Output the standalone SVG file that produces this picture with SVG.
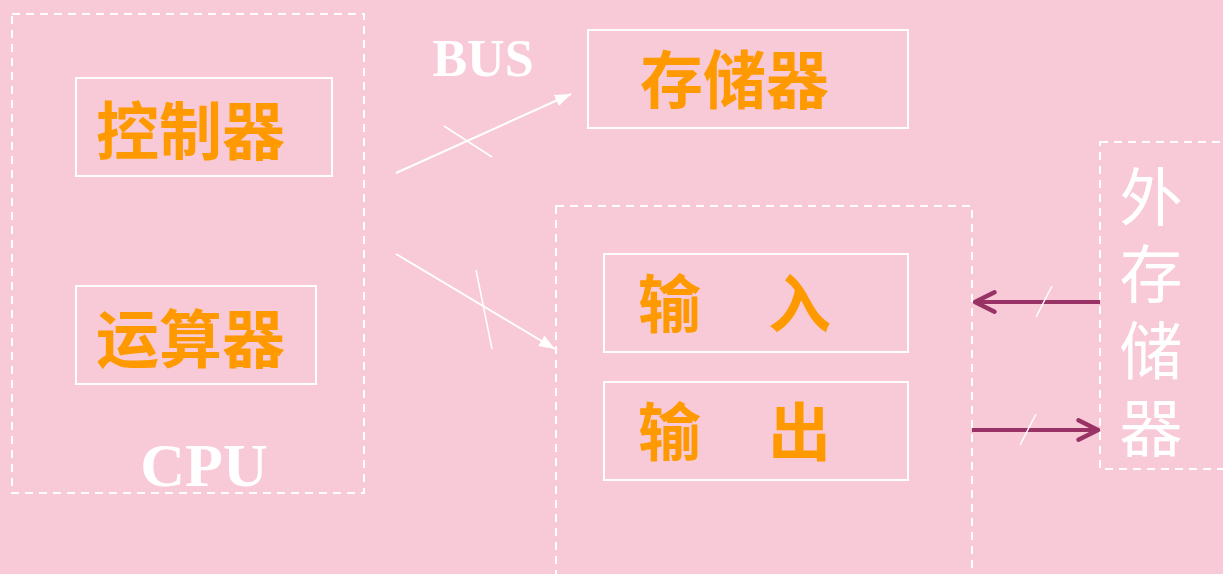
<svg xmlns="http://www.w3.org/2000/svg" width="1223" height="574" viewBox="0 0 1223 574">
<defs>
<style>
.dash{fill:none;stroke:#fff;stroke-width:2;stroke-dasharray:8 6}
.box{fill:none;stroke:#fff;stroke-width:2}
.cn{fill:#FF9900;font-family:"Noto Sans CJK SC","Noto Sans CJK JP",sans-serif;font-weight:bold;font-size:63px}
.lat{fill:#fff;font-family:"Liberation Serif",serif;font-weight:bold}
.ext{fill:#fff;font-family:"Noto Sans CJK SC",sans-serif;font-size:63px}
.bus{stroke:#fff;stroke-width:2;fill:none}
.pur{stroke:#993366;stroke-width:4;fill:none}
.tick{stroke:#fff;stroke-width:1.5}
</style>
<marker id="wa" viewBox="0 0 10 10" refX="10" refY="5" markerWidth="16" markerHeight="12" markerUnits="userSpaceOnUse" orient="auto" preserveAspectRatio="none"><path d="M0,0 L10,5 L0,10 Z" fill="#fff"/></marker>
<marker id="pa" viewBox="0 0 12 12" refX="11" refY="6" markerWidth="26" markerHeight="26" markerUnits="userSpaceOnUse" orient="auto"><polyline points="2,1.5 11,6 2,10.5" fill="none" stroke="#993366" stroke-width="2" stroke-linecap="round" stroke-linejoin="round"/></marker>
</defs>
<rect width="1223" height="574" fill="#F8CAD8"/>
<g id="cpu">
<rect class="dash" x="12" y="14" width="352" height="479"/>
<text class="lat" x="204" y="486" font-size="62" text-anchor="middle">CPU</text>
</g>
<g id="controller">
<rect class="box" x="76" y="78" width="256" height="98"/>
<text class="cn" x="96" y="154">控制器</text>
</g>
<g id="alu">
<rect class="box" x="76" y="286" width="240" height="98"/>
<text class="cn" x="96" y="362">运算器</text>
</g>
<g id="memory">
<rect class="box" x="588" y="30" width="320" height="98"/>
<text class="cn" x="640" y="103">存储器</text>
</g>
<g id="io">
<rect class="dash" x="556" y="206" width="416" height="372"/>
</g>
<g id="input">
<rect class="box" x="604" y="254" width="304" height="98"/>
<text class="cn" x="638" y="327">输</text>
<text class="cn" x="768" y="327">入</text>
</g>
<g id="output">
<rect class="box" x="604" y="382" width="304" height="98"/>
<text class="cn" x="638" y="455">输</text>
<text class="cn" x="768" y="455">出</text>
</g>
<g id="external">
<rect class="dash" x="1100" y="142" width="130" height="327"/>
<text class="ext" x="1151" y="165" writing-mode="vertical-rl" letter-spacing="14">外存储器</text>
</g>
<text class="lat" x="483" y="76" font-size="52" text-anchor="middle">BUS</text>
<g id="connectors">
<line class="bus" x1="396" y1="173" x2="571" y2="94" marker-end="url(#wa)"/>
<line class="tick" x1="444" y1="126" x2="492" y2="157"/>
<line class="bus" x1="396" y1="254" x2="555" y2="349" marker-end="url(#wa)"/>
<line class="tick" x1="476" y1="270" x2="492" y2="349"/>
<line class="pur" x1="1100" y1="302" x2="975" y2="302" marker-end="url(#pa)"/>
<line class="tick" x1="1052" y1="286" x2="1036" y2="317"/>
<line class="pur" x1="972" y1="430" x2="1098" y2="430" marker-end="url(#pa)"/>
<line class="tick" x1="1036" y1="414" x2="1020" y2="445"/>
</g>
</svg>
